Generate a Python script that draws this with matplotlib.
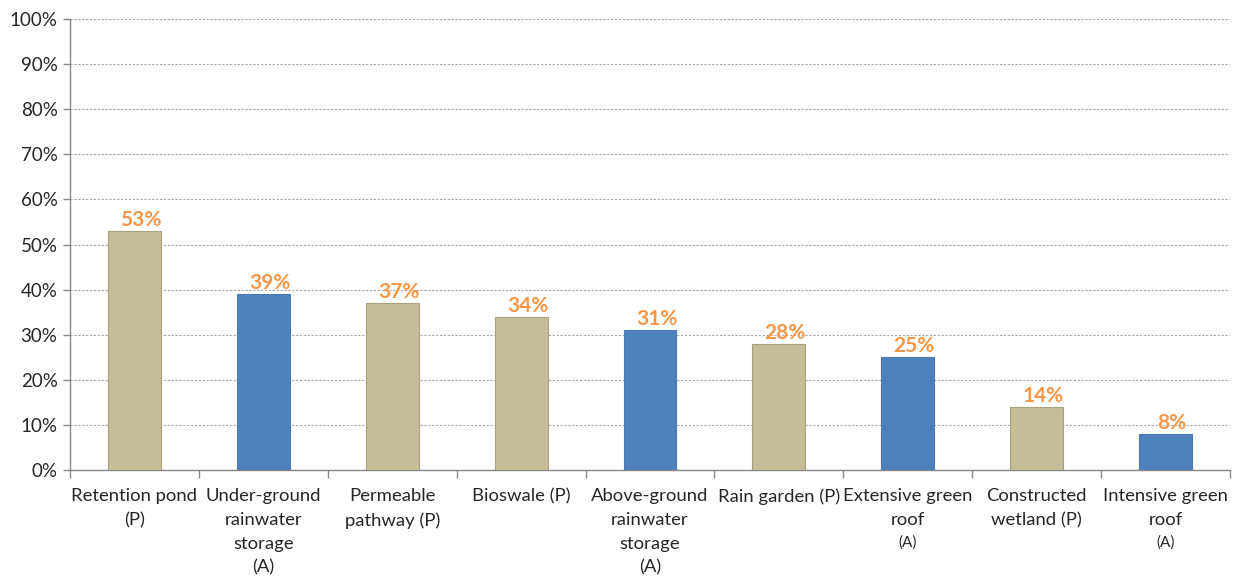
import matplotlib.pyplot as plt
from matplotlib.ticker import MultipleLocator, FuncFormatter

plt.rcParams['font.family'] = ['Lato', 'DejaVu Sans']

# measures, share of respondents, and type (P = passive, A = active)
names = ["Retention pond\n(P)", "Under-ground\nrainwater\nstorage\n(A)", "Permeable\npathway (P)",
         "Bioswale (P)", "Above-ground\nrainwater\nstorage\n(A)", "Rain garden (P)",
         "Extensive green\nroof", "Constructed\nwetland (P)", "Intensive green\nroof"]
small_suffix = ["", "", "", "", "", "", "(A)", "", "(A)"]
kinds = ["P", "A", "P", "P", "A", "P", "A", "P", "A"]
shares = [53, 39, 37, 34, 31, 28, 25, 14, 8]

colours = {"P": "#C4BD97", "A": "#4F81BD"}
edges = {"P": "#A8A27E", "A": "#4A7AB0"}

fig = plt.figure(figsize=(12.39, 5.78), dpi=100)
ax = fig.add_axes([70 / 1239, 108 / 578, 1160 / 1239, 451 / 578])

x = range(len(shares))
ax.bar(x, shares, width=0.41,
       color=[colours[k] for k in kinds],
       edgecolor=[edges[k] for k in kinds], linewidth=0.8, zorder=3)

for i, v in enumerate(shares):
    ax.text(i + 0.05, v + 0.2, f"{v}%", ha="center", va="bottom",
            fontsize=15, fontweight="bold", color="#F79646", zorder=4)

ax.set_xlim(-0.5, len(shares) - 0.5)
ax.set_ylim(0, 100)
ax.yaxis.set_major_locator(MultipleLocator(10))
ax.yaxis.set_major_formatter(FuncFormatter(lambda v, p: f"{v:.0f}%"))
ax.grid(axis="y", color="#A6A6A6", linestyle=(0, (2, 1.5)), linewidth=0.8, zorder=0)

# ticks between categories, labels placed by hand
ax.set_xticks([i - 0.5 for i in range(len(shares) + 1)])
ax.set_xticklabels([])
ax.tick_params(axis="x", length=6, color="#868686", width=1)
ax.tick_params(axis="y", length=5, color="#868686", width=1, labelsize=13.5,
               labelcolor="#262626", pad=4)

for s in ["top", "right"]:
    ax.spines[s].set_visible(False)
for s in ["left", "bottom"]:
    ax.spines[s].set_color("#868686")
    ax.spines[s].set_linewidth(1)

trans = ax.get_xaxis_transform()
for i, name in enumerate(names):
    ax.text(i, -0.04, name, ha="center", va="top", transform=trans,
            fontsize=13.3, color="#262626", linespacing=1.6)
    if small_suffix[i]:
        nlines = name.count("\n") + 1
        ax.text(i, -0.045 - nlines * 0.05, small_suffix[i], ha="center", va="top",
                transform=trans, fontsize=11, color="#262626")

fig.savefig("out.png", dpi=100)
